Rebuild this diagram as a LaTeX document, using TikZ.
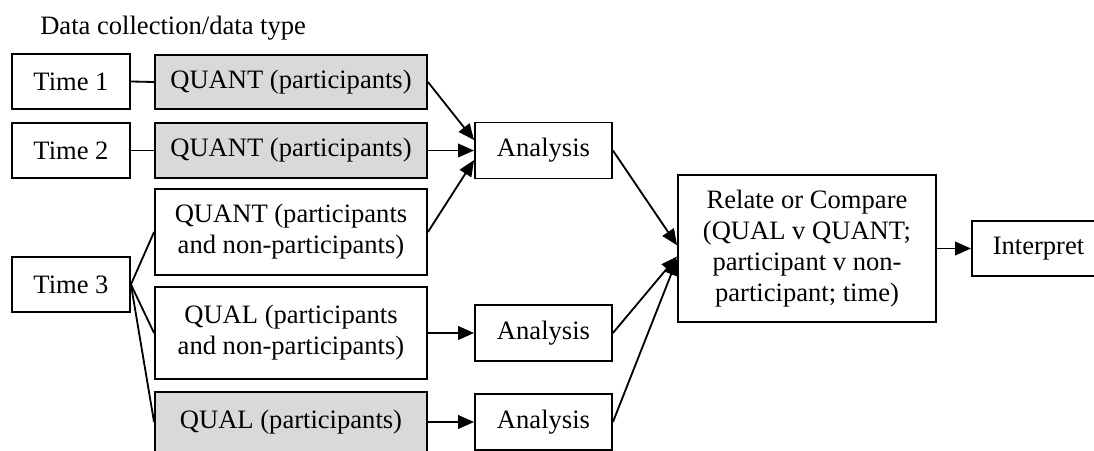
\documentclass[tikz,border=0pt]{standalone}
\usepackage{fontspec}
\setmainfont{Liberation Serif}
\usepackage{xcolor}
\usepackage{tikz}
\usetikzlibrary{arrows.meta, positioning}
\definecolor{partgray}{RGB}{217, 217, 217}

\tikzset{
    stagebox/.style={draw, line width=1.3pt, align=center, inner sep=0pt,
        font=\fontsize{18.9}{22}\selectfont},
    timebox/.style={stagebox, minimum width=2.95cm, minimum height=1.375cm},
    databox/.style={stagebox, minimum width=6.8cm},
    partbox/.style={databox, fill=partgray},
    analysisbox/.style={stagebox, minimum width=3.425cm, minimum height=1.4cm},
    link/.style={line width=1.3pt},
    flow/.style={line width=1.3pt, -{Triangle[length=0.4cm, width=0.34cm]}}
}

\begin{document}
\begin{tikzpicture}[x=0.025cm, y=-0.025cm]
    \useasboundingbox (0,0) rectangle (1094,451);

    % Heading
    \node[anchor=west, inner sep=0pt, font=\fontsize{18.9}{22}\selectfont]
        (heading) at (40,28) {Data collection/data type};

    % Time points
    \node[timebox] (time1) at (71,81.5) {Time 1};
    \node[timebox] (time2) at (71,150.5) {Time 2};
    \node[timebox] (time3) at (71,284.5) {Time 3};

    % Data collected
    \node[partbox, minimum height=1.35cm] (quant1) at (291,82) {QUANT (participants)};
    \node[partbox, minimum height=1.375cm] (quant2) at (291,150.5) {QUANT (participants)};
    \node[databox, minimum height=2.15cm] (quant3) at (291,232)
        {QUANT (participants\\and non-participants)};
    \node[databox, minimum height=2.3cm] (qual2) at (291,333)
        {QUAL (participants\\and non-participants)};
    \node[partbox, minimum height=1.5cm] (qual3) at (291,422) {QUAL (participants)};

    % Analyses
    \node[analysisbox] (ana1) at (543.5,150.5) {Analysis};
    \node[analysisbox] (ana2) at (543.5,333) {Analysis};
    \node[analysisbox] (ana3) at (543.5,422) {Analysis};

    % Comparison and interpretation
    \node[stagebox, minimum width=6.45cm, minimum height=3.675cm] (relate) at (807,248.5)
        {Relate or Compare\\(QUAL v QUANT;\\participant v non-\\participant; time)};
    \node[stagebox, minimum width=3.325cm, minimum height=1.375cm] (interp) at (1038.5,248.5)
        {Interpret};

    % Time to data
    \draw[link] (time1.east) -- (quant1.west);
    \draw[link] (time2.east) -- (quant2.west);
    \foreach \d in {quant3, qual2, qual3} {
        \draw[link] (time3.east) -- (\d.west);
    }

    % Data to analysis
    \draw[flow] (quant1.east) -- ([yshift=0.26cm]ana1.west);
    \draw[flow] (quant2.east) -- (ana1.west);
    \draw[flow] (quant3.east) -- ([yshift=-0.24cm]ana1.west);
    \draw[flow] (qual2.east) -- (ana2.west);
    \draw[flow] (qual3.east) -- (ana3.west);

    % Analysis to comparison
    \draw[flow] (ana1.east) -- ([yshift=0.08cm]relate.west);
    \draw[flow] (ana2.east) -- ([yshift=-0.2cm]relate.west);
    \draw[flow] (ana3.east) -- ([yshift=-0.27cm]relate.west);
    \draw[flow] (relate.east) -- (interp.west);
\end{tikzpicture}
\end{document}
